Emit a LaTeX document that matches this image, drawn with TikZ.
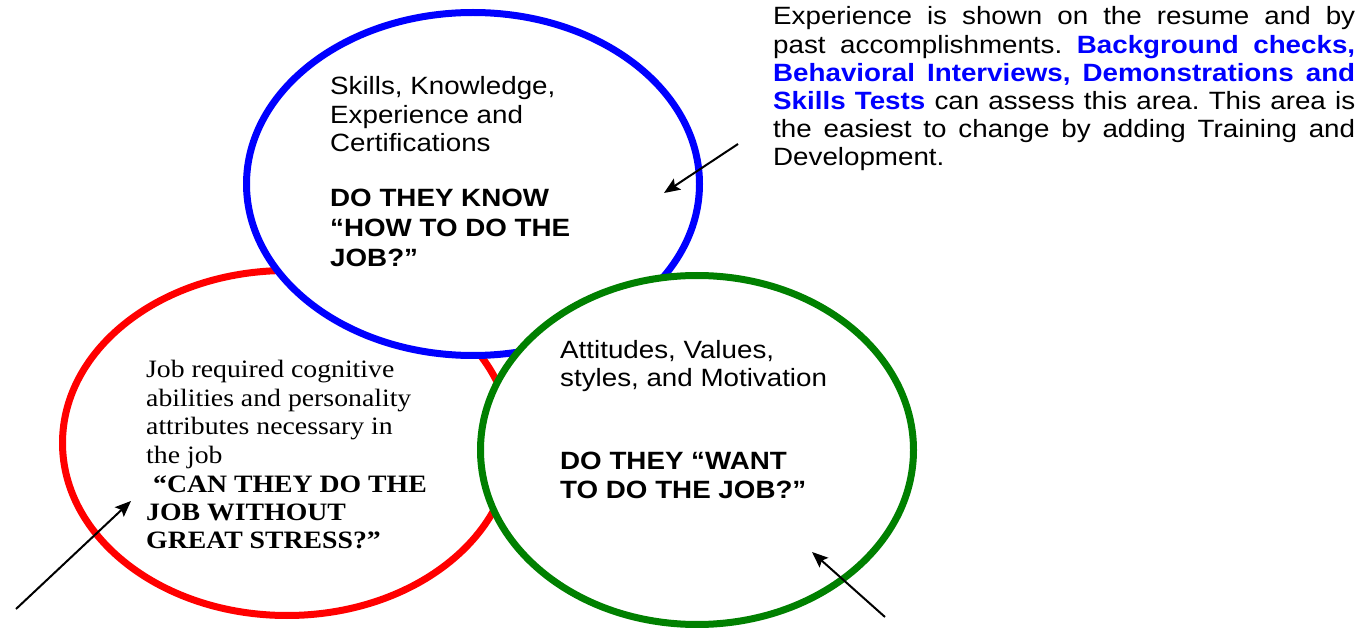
\documentclass[tikz,border=0pt]{standalone}
\usepackage{fontspec}
\usepackage{xcolor}
\usetikzlibrary{shapes.geometric,arrows.meta,positioning}
\newfontfamily\arialfont[FakeStretch=1.11]{Liberation Sans}
\newfontfamily\timesfont[FakeStretch=1.11]{Liberation Serif}
\definecolor{ringblue}{RGB}{0,0,255}
\definecolor{ringred}{RGB}{255,0,0}
\definecolor{ringgreen}{RGB}{0,128,0}
\tikzset{
  ring/.style={ellipse, draw, fill=white, line width=7pt, inner sep=0pt},
  desc/.style={anchor=base west, align=left, inner sep=0pt,
               font=\arialfont\fontsize{25}{28.5}\selectfont},
  question/.style={anchor=base west, align=left, inner sep=0pt,
                   font=\arialfont\bfseries\fontsize{25}{30}\selectfont},
  descserif/.style={anchor=base west, align=left, inner sep=0pt,
                    font=\timesfont\fontsize{25}{28.4}\selectfont},
  questionserif/.style={anchor=base west, align=left, inner sep=0pt,
                        font=\timesfont\bfseries\fontsize{25}{28}\selectfont},
  note/.style={anchor=base west, align=justify, inner sep=0pt, text width=582pt,
               font=\arialfont\fontsize{25}{28.2}\selectfont\frenchspacing},
  pointer/.style={-{Stealth[length=16pt,width=13pt,inset=3pt]}, line width=2pt}
}

\begin{document}
\begin{tikzpicture}[x=1pt,y=-1pt]
\useasboundingbox (0,0) rectangle (1361,628);

% --- Rings (red under blue under green) ---
\node[ring, draw=ringred, minimum width=449pt, minimum height=345pt]
  (canring) at (287,443) {};
\node[ring, draw=ringblue, minimum width=453pt, minimum height=343pt]
  (knowring) at (473,184) {};
\node[ring, draw=ringgreen, minimum width=433pt, minimum height=349pt]
  (wantring) at (697,450) {};

% --- Blue ring text (base = last line) ---
\node[desc] (knowdesc) at (330,152) {Skills, Knowledge,\\Experience and\\Certifications};
\node[question] (knowq) at (330,267) {DO THEY KNOW\\“HOW TO DO THE\\JOB?”};

% --- Red ring text ---
\node[descserif] (candesc) at (146,463)
  {Job required cognitive\\abilities and personality\\attributes necessary in\\the job};
\node[questionserif] (canq) at (146,548)
  {\ “CAN THEY DO THE\\JOB WITHOUT\\GREAT STRESS?”};

% --- Green ring text ---
\node[desc] (wantdesc) at (560,387) {Attitudes, Values,\\styles, and Motivation};
\node[question, font=\arialfont\bfseries\fontsize{25}{29}\selectfont]
  (wantq) at (560,498) {DO THEY “WANT\\TO DO THE JOB?”};

% --- Side note ---
\node[note] (expnote) at (773,25)
  {Experience is shown on the resume and by\linebreak
   past accomplishments. \textcolor{ringblue}{\bfseries Background checks,}\linebreak
   \textcolor{ringblue}{\bfseries Behavioral Interviews, Demonstrations and}\linebreak
   \textcolor{ringblue}{\bfseries Skills Tests} can assess this area. This area is\linebreak
   the easiest to change by adding Training and\linebreak
   Development.};

% --- Arrows ---
\coordinate (knowtail) at (738,144);
\coordinate (knowtip) at (664,193);
\coordinate (cantail) at (16,609);
\coordinate (cantip) at (131,501);
\coordinate (wanttail) at (885,617);
\coordinate (wanttip) at (812,552);

\draw[pointer] (knowtail) -- (knowtip);
\draw[pointer] (cantail) -- (cantip);
\draw[pointer] (wanttail) -- (wanttip);

\end{tikzpicture}
\end{document}
